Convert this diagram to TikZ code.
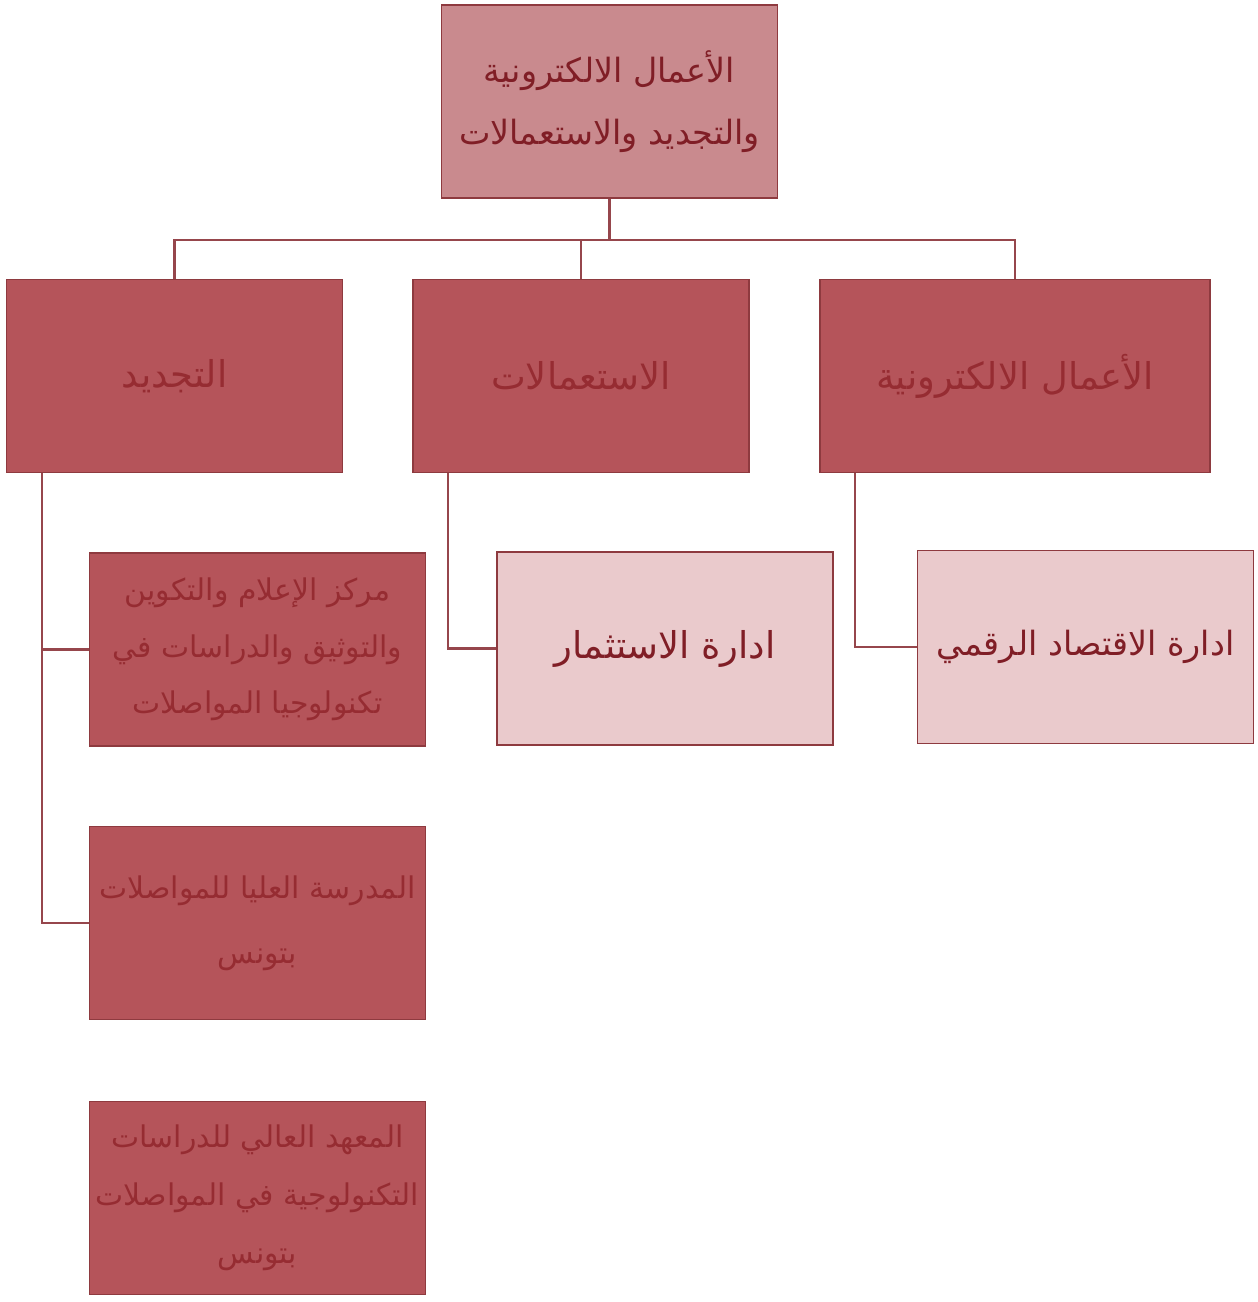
\documentclass[tikz,border=0pt]{standalone}
\usepackage{fontspec}
\usepackage{tikz}
\usetikzlibrary{calc,positioning}
\TeXXeTstate=1
\newfontfamily\arabicfont[Script=Arabic]{DejaVu Sans}
\newcommand{\artxt}[1]{\beginR #1\endR}

\definecolor{rootfill}{RGB}{201,138,142}
\definecolor{darkfill}{RGB}{181,84,90}
\definecolor{lightfill}{RGB}{234,202,204}
\definecolor{boxline}{RGB}{142,58,63}
\definecolor{darktext}{RGB}{150,44,50}
\definecolor{deeptext}{RGB}{128,30,38}
\definecolor{linkline}{RGB}{150,70,76}

\tikzset{
	orgbox/.style={draw=boxline,line width=0.8pt,inner sep=1pt,align=center,
		minimum width=6.72cm,minimum height=3.86cm},
	rootbox/.style={orgbox,fill=rootfill,text=deeptext,font=\arabicfont\fontsize{19}{35}\selectfont},
	deptbox/.style={orgbox,fill=darkfill,text=darktext,font=\arabicfont\fontsize{21}{30}\selectfont},
	subbox/.style={orgbox,fill=darkfill,text=darktext,font=\arabicfont\fontsize{17}{33}\selectfont},
	unitbox/.style={orgbox,fill=lightfill,text=deeptext,font=\arabicfont\fontsize{19}{30}\selectfont},
	link/.style={draw=linkline,line width=1.3pt}
}

\begin{document}
\begin{tikzpicture}
			\useasboundingbox (0,0) rectangle (25.14,-26.04);
			\def \bus {-4.8}
			\def \off {0.72cm}
			
			%root
			\node[rootbox] (root) at (12.19,-2.03) {\artxt{الأعمال الالكترونية}\\\artxt{والتجديد والاستعمالات}};
			
			%second level
			\node[deptbox] (renew) at (3.49,-7.52) {\artxt{التجديد}};
			\node[deptbox] (usage) at (11.62,-7.52) {\artxt{الاستعمالات}};
			\node[deptbox,minimum width=7.8cm] (ebiz) at (20.3,-7.52) {\artxt{الأعمال الالكترونية}};
			
			%third level
			\node[unitbox] (digital) at (21.71,-12.94) {\artxt{ادارة الاقتصاد الرقمي}};
			\node[unitbox,font=\arabicfont\fontsize{21}{30}\selectfont] (invest) at (13.3,-12.97) {\artxt{ادارة الاستثمار}};
			\node[subbox,font=\arabicfont\fontsize{17}{32}\selectfont] (center) at (5.15,-12.99) {\artxt{مركز الإعلام والتكوين}\\\artxt{والتوثيق والدراسات في}\\\artxt{تكنولوجيا المواصلات}};
			\node[subbox,font=\arabicfont\fontsize{17}{37}\selectfont] (school) at (5.15,-18.46) {\artxt{المدرسة العليا للمواصلات}\\\artxt{بتونس}};
			\node[subbox] (inst) at (5.15,-23.96) {\artxt{المعهد العالي للدراسات}\\\artxt{التكنولوجية في المواصلات}\\\artxt{بتونس}};
			
			%root to second level
			\draw[link] (root.south) -- (root.south |- 0,\bus);
			\draw[link] (renew.north) -- (renew.north |- 0,\bus) -| (ebiz.north);
			\draw[link] (usage.north) -- (usage.north |- 0,\bus);
			
			%second level to units
			\draw[link] ([xshift=\off]ebiz.south west) |- (digital.west);
			\draw[link] ([xshift=\off]usage.south west) |- (invest.west);
			\draw[link] ([xshift=\off]renew.south west) |- (center.west);
			\draw[link] ([xshift=\off]renew.south west) |- (school.west);
\end{tikzpicture}
\end{document}
